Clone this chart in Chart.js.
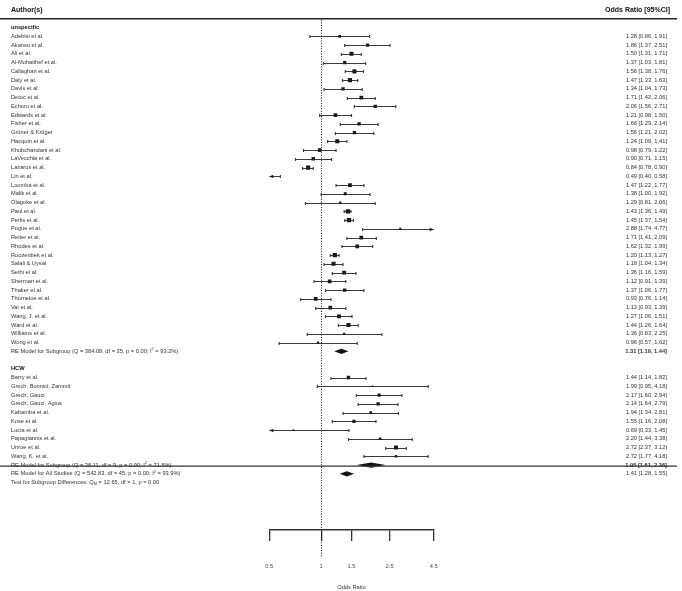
<!DOCTYPE html>
<html lang="en">
<head>
  <meta charset="UTF-8">
  <title>Forest plot | Odds Ratio</title>
  <script src="https://cdn.jsdelivr.net/npm/chart.js@4"></script>
  <style>
    body { margin: 0; background: #fff; }
    #forest { display: block; }
  </style>
</head>
<body>
  <canvas id="forest" width="682" height="591"></canvas>

  <script>
    // Studies, subgroup "unspecific"
    const unspecAuthors = [
      'Adebisi et al.', 'Akansu et al.', 'Ali et al.', 'Al-Mohaithef et al.', 'Callaghan et al.',
      'Daly et al.', 'Davis et al.', 'Detoc et al.', 'Echoru et al.', 'Edwards et al.',
      'Fisher et al.', 'Grüner & Krüger', 'Hacquin et al.', 'Khubchandani et al.', 'LaVecchia et al.',
      'Lazarus et al.', 'Lin et al.', 'Loomba et al.', 'Malik et al.', 'Olagoke et al.',
      'Paul et al.', 'Perlis et al.', 'Pogue et al.', 'Reiter et al.', 'Rhodes et al.',
      'Roozenbek et al.', 'Salali & Uysal', 'Sethi et al.', 'Sherman et al.', 'Thaker et al.',
      'Thorneloe et al.', 'Vai et al.', 'Wang, J. et al.', 'Ward et al.', 'Williams et al.',
      'Wong et al.'
    ];
    const unspecOR = [1.28, 1.86, 1.50, 1.37, 1.56, 1.47, 1.34, 1.71, 2.06, 1.21, 1.66, 1.56, 1.24, 0.98, 0.90,
      0.84, 0.49, 1.47, 1.38, 1.29, 1.43, 1.45, 2.88, 1.71, 1.62, 1.20, 1.18, 1.36, 1.12, 1.37,
      0.93, 1.13, 1.27, 1.44, 1.36, 0.96];
    const unspecLower = [0.86, 1.37, 1.31, 1.03, 1.38, 1.33, 1.04, 1.42, 1.56, 0.98, 1.29, 1.21, 1.09, 0.79, 0.71,
      0.78, 0.40, 1.22, 1.00, 0.81, 1.36, 1.37, 1.74, 1.41, 1.32, 1.13, 1.04, 1.16, 0.91, 1.06,
      0.76, 0.93, 1.06, 1.26, 0.83, 0.57];
    const unspecUpper = [1.91, 2.51, 1.71, 1.81, 1.76, 1.63, 1.73, 2.06, 2.71, 1.50, 2.14, 2.02, 1.41, 1.22, 1.15,
      0.90, 0.58, 1.77, 1.92, 2.06, 1.49, 1.54, 4.77, 2.09, 1.99, 1.27, 1.34, 1.59, 1.39, 1.77,
      1.14, 1.39, 1.51, 1.64, 2.25, 1.62];

    // Studies, subgroup "HCW"
    const hcwAuthors = [
      'Barry et al.', 'Grech, Bonnici, Zammit', 'Grech, Gauci', 'Grech, Gauci, Agius', 'Kabamba et al.',
      'Kose et al.', 'Lucia et al.', 'Papagiannis et al.', 'Unroe et al.', 'Wang, K. et al.'
    ];
    const hcwOR = [1.44, 1.99, 2.17, 2.14, 1.94, 1.55, 0.69, 2.20, 2.72, 2.72];
    const hcwLower = [1.14, 0.95, 1.60, 1.64, 1.34, 1.16, 0.33, 1.44, 2.37, 1.77];
    const hcwUpper = [1.82, 4.18, 2.94, 2.79, 2.81, 2.08, 1.45, 3.38, 3.12, 4.18];

    // Random-effects summaries: unspecific, HCW, all studies
    const summaryOR = [1.31, 1.95, 1.41];
    const summaryLower = [1.19, 1.61, 1.28];
    const summaryUpper = [1.44, 2.36, 1.55];
    const summaryQ = ['384.08', '38.11', '542.83'];
    const summaryDf = [35, 9, 45];
    const summaryP = ['0.00', '0.00', '0.00'];
    const summaryI2 = ['93.2', '71.5', '93.9'];
    const testQM = '12.65', testDf = 1, testP = '0.00';

    const tickValues = [0.5, 1, 1.5, 2.5, 4.5];
    const tickLabels = ['0.5', '1', '1.5', '2.5', '4.5'];
    const xMin = 0.5, xMax = 4.5;

    // ---- row layout (one row per unit on the y scale) ----
    const studies = [];
    unspecAuthors.forEach((a, i) => studies.push({ label: a, or: unspecOR[i], lo: unspecLower[i], hi: unspecUpper[i], y: i }));
    const unspecSummaryY = unspecAuthors.length;
    const hcwHeaderY = unspecSummaryY + 2;
    hcwAuthors.forEach((a, i) => studies.push({ label: a, or: hcwOR[i], lo: hcwLower[i], hi: hcwUpper[i], y: hcwHeaderY + 1 + i }));
    const hcwSummaryY = hcwHeaderY + 1 + hcwAuthors.length;
    const allY = hcwSummaryY + 1;
    const testY = allY + 1;
    const summaryY = [unspecSummaryY, hcwSummaryY, allY];

    // marker size from random-effects weight (1 / (se^2 + tau^2))
    const tau2 = 0.05;
    const weights = studies.map(s => {
      const se = (Math.log(s.hi) - Math.log(s.lo)) / 3.92;
      return 1 / (se * se + tau2);
    });
    const wMin = Math.min(...weights), wMax = Math.max(...weights);
    const sides = weights.map(w => 1.5 + (w - wMin) / (wMax - wMin) * 2.8);

    const fmt = (o, l, h) => `${o.toFixed(2)} [${l.toFixed(2)}, ${h.toFixed(2)}]`;
    const FONT = '"Liberation Sans", Arial, Helvetica, sans-serif';
    const TXT = 5.7;

    function richText(ctx, parts, x, y, size, weight, align) {
      let total = 0;
      parts.forEach(p => {
        ctx.font = `${weight} ${p.sup || p.sub ? size * 0.7 : size}px ${FONT}`;
        p.w = ctx.measureText(p.t).width;
        total += p.w;
      });
      let cx = align === 'right' ? x - total : x;
      ctx.textAlign = 'left';
      parts.forEach(p => {
        ctx.font = `${weight} ${p.sup || p.sub ? size * 0.7 : size}px ${FONT}`;
        const dy = p.sup ? -size * 0.4 : (p.sub ? size * 0.3 : 0);
        ctx.fillText(p.t, cx, y + dy);
        cx += p.w;
      });
    }

    const forestPlugin = {
      id: 'forest',
      beforeDatasetsDraw(chart) {
        const { ctx } = chart;
        const xs = chart.scales.x, ys = chart.scales.y;
        ctx.save();
        // confidence intervals
        ctx.strokeStyle = '#3a3a3a';
        ctx.fillStyle = '#222';
        ctx.lineWidth = 1.15;
        studies.forEach(s => {
          const py = Math.round(ys.getPixelForValue(s.y)) + 0.5;
          const xl = xs.getPixelForValue(Math.max(s.lo, xMin));
          const xr = xs.getPixelForValue(Math.min(s.hi, xMax));
          ctx.beginPath();
          ctx.moveTo(xl, py); ctx.lineTo(xr, py);
          if (s.lo >= xMin) { ctx.moveTo(xl, py - 1.6); ctx.lineTo(xl, py + 1.6); }
          if (s.hi <= xMax) { ctx.moveTo(xr, py - 1.6); ctx.lineTo(xr, py + 1.6); }
          ctx.stroke();
          if (s.lo < xMin) {
            ctx.beginPath();
            ctx.moveTo(xl, py); ctx.lineTo(xl + 4, py - 1.8); ctx.lineTo(xl + 4, py + 1.8);
            ctx.closePath(); ctx.fill();
          }
          if (s.hi > xMax) {
            ctx.beginPath();
            ctx.moveTo(xr, py); ctx.lineTo(xr - 4, py - 1.8); ctx.lineTo(xr - 4, py + 1.8);
            ctx.closePath(); ctx.fill();
          }
        });
        // summary diamonds
        ctx.fillStyle = '#111';
        summaryOR.forEach((o, i) => {
          const py = ys.getPixelForValue(summaryY[i]);
          ctx.beginPath();
          ctx.moveTo(xs.getPixelForValue(summaryLower[i]), py);
          ctx.lineTo(xs.getPixelForValue(o), py - 2.6);
          ctx.lineTo(xs.getPixelForValue(summaryUpper[i]), py);
          ctx.lineTo(xs.getPixelForValue(o), py + 2.6);
          ctx.closePath();
          ctx.fill();
        });
        ctx.restore();
      },
      afterDraw(chart) {
        const { ctx } = chart;
        const xs = chart.scales.x, ys = chart.scales.y;
        const W = chart.width;
        const leftX = 11, rightX = 667;
        ctx.save();
        ctx.textBaseline = 'middle';

        // header
        ctx.fillStyle = '#111';
        ctx.font = `bold 7px ${FONT}`;
        ctx.textAlign = 'left';
        ctx.fillText('Author(s)', leftX, ys.getPixelForValue(-3.05));
        ctx.textAlign = 'right';
        ctx.fillText('Odds Ratio [95%CI]', rightX + 3, ys.getPixelForValue(-3.05));

        // separator lines
        ctx.strokeStyle = '#222';
        ctx.lineWidth = 1.5;
        ctx.beginPath();
        ctx.moveTo(0, ys.getPixelForValue(-2)); ctx.lineTo(W - 5, ys.getPixelForValue(-2));
        ctx.stroke();
        ctx.lineWidth = 1.2;
        ctx.strokeStyle = '#333';
        ctx.beginPath();
        ctx.moveTo(0, ys.getPixelForValue(hcwSummaryY + 0.12)); ctx.lineTo(W - 5, ys.getPixelForValue(hcwSummaryY + 0.12));
        ctx.stroke();

        // reference line at OR = 1
        const x1 = Math.round(xs.getPixelForValue(1)) + 0.5;
        ctx.setLineDash([1, 1.6]);
        ctx.lineWidth = 1;
        ctx.strokeStyle = '#111';
        ctx.beginPath();
        ctx.moveTo(x1, ys.getPixelForValue(-1.9));
        ctx.lineTo(x1, xs.bottom - 33);
        ctx.stroke();
        ctx.setLineDash([]);

        // group headers
        ctx.fillStyle = '#111';
        ctx.font = `bold ${TXT}px ${FONT}`;
        ctx.textAlign = 'left';
        ctx.fillText('unspecific', leftX, ys.getPixelForValue(-1));
        ctx.fillText('HCW', leftX, ys.getPixelForValue(hcwHeaderY));

        // study rows
        ctx.fillStyle = '#333';
        ctx.font = `${TXT}px ${FONT}`;
        studies.forEach(s => {
          const py = ys.getPixelForValue(s.y);
          ctx.textAlign = 'left';
          ctx.fillText(s.label, leftX, py);
          ctx.textAlign = 'right';
          ctx.fillText(fmt(s.or, s.lo, s.hi), rightX, py);
        });

        // summary rows
        const names = ['RE Model for Subgroup', 'RE Model for Subgroup', 'RE Model for All Studies'];
        summaryOR.forEach((o, i) => {
          const py = ys.getPixelForValue(summaryY[i]);
          richText(ctx, [
            { t: `${names[i]} (Q = ${summaryQ[i]}, df = ${summaryDf[i]}, p = ${summaryP[i]}; I` },
            { t: '2', sup: true },
            { t: ` = ${summaryI2[i]}%)` }
          ], leftX, py, TXT, 'normal', 'left');
          ctx.font = `${i < 2 ? 'bold' : 'normal'} ${TXT}px ${FONT}`;
          ctx.textAlign = 'right';
          ctx.fillText(fmt(o, summaryLower[i], summaryUpper[i]), rightX, py);
        });
        richText(ctx, [
          { t: 'Test for Subgroup Differences: Q' },
          { t: 'M', sub: true },
          { t: ` = ${testQM}, df = ${testDf}, p = ${testP}` }
        ], leftX, ys.getPixelForValue(testY), TXT, 'normal', 'left');
        ctx.restore();
      }
    };

    const points = studies.map(s => ({ x: s.or, y: s.y }));

    const ctx = document.getElementById('forest').getContext('2d');
    const forestChart = new Chart(ctx, {
      type: 'scatter',
      data: {
        datasets: [{
          data: points,
          pointStyle: 'rect',
          backgroundColor: '#1a1a1a',
          borderWidth: 0,
          pointRadius: c => (studies[c.dataIndex].or < xMin || studies[c.dataIndex].or > xMax) ? 0 : sides[c.dataIndex] / 1.414,
          pointHoverRadius: c => sides[c.dataIndex] / 1.414
        }]
      },
      options: {
        responsive: false,
        animation: false,
        devicePixelRatio: 1,
        layout: { padding: { left: 269.3, right: 248.3, top: 0, bottom: 0 } },
        plugins: { legend: { display: false }, tooltip: { enabled: false } },
        scales: {
          x: {
            type: 'logarithmic',
            min: xMin,
            max: xMax,
            afterBuildTicks: s => { s.ticks = tickValues.map(v => ({ value: v })); },
            afterFit: s => { s.height = 61; },
            ticks: {
              autoSkip: false,
              maxRotation: 0,
              padding: 22,
              color: '#444',
              font: { family: FONT, size: TXT },
              callback: (v, i) => tickLabels[i]
            },
            grid: { drawOnChartArea: false, drawTicks: true, tickLength: 11, color: '#333', lineWidth: 1.3 },
            border: { display: true, color: '#333', width: 1.5 },
            title: { display: true, text: 'Odds Ratio', color: '#333', font: { family: FONT, size: TXT }, padding: 0 }
          },
          y: {
            type: 'linear',
            reverse: true,
            min: -3.807,
            max: 56.42,
            display: false
          }
        }
      },
      plugins: [forestPlugin]
    });
  </script>
</body>
</html>
